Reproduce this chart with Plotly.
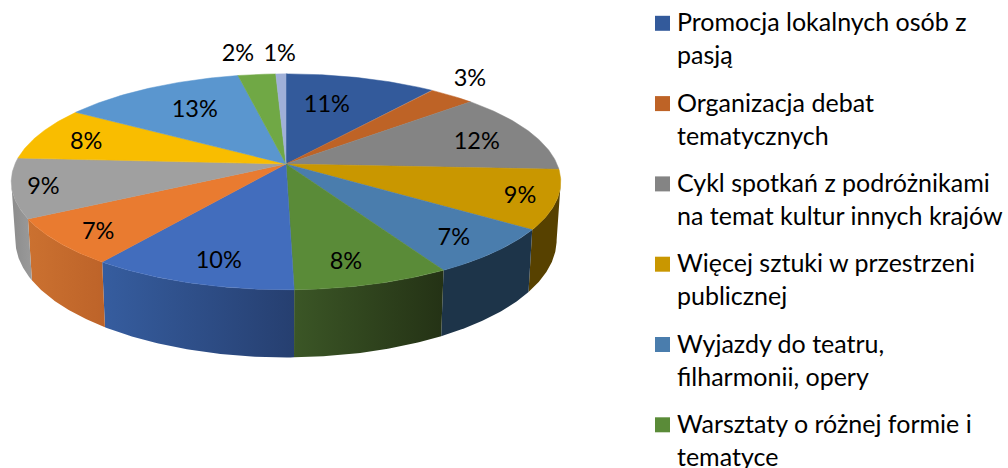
import numpy as np
import plotly.graph_objects as go

# --- data ---
shares = [10.4, 3.2, 12.2, 8.8, 7.1, 7.9, 10.4, 7.0, 8.9, 8.1, 12.7, 2.6, 0.7]
percent_labels = ["11%", "3%", "12%", "9%", "7%", "8%", "10%", "7%", "9%", "8%", "13%", "2%", "1%"]
legend_names = [
    ["Promocja lokalnych osób z", "pasją"],
    ["Organizacja debat", "tematycznych"],
    ["Cykl spotkań z podróżnikami", "na temat kultur innych krajów"],
    ["Więcej sztuki w przestrzeni", "publicznej"],
    ["Wyjazdy do teatru,", "filharmonii, opery"],
    ["Warsztaty o różnej formie i", "tematyce"],
]

# --- style ---
top_colors = ["#335A9B", "#BE6326", "#848484", "#C99700", "#4A7DAD", "#5A8B38", "#426DBD",
              "#E97B30", "#A0A0A0", "#F9BD00", "#5A96CF", "#70A845", "#A0B0D8"]
wall_left = ["#335A9B", "#BE6326", "#848484", "#574100", "#1D3449", "#3B5626", "#365D9F",
             "#CB7130", "#8C8C8C", "#F9BD00", "#5A96CF", "#70A845", "#A0B0D8"]
wall_right = ["#335A9B", "#BE6326", "#848484", "#574100", "#1D3449", "#243215", "#263F70",
              "#BD6329", "#9A9A9A", "#F9BD00", "#5A96CF", "#70A845", "#A0B0D8"]
label_radius = [.66, 1.238, .765, .87, .834, .825, .819, .852, .888, .798, .682, 1.303, 1.285]
label_turn = [-4.1, -3.8, 1.8, 0, .9, 2.2, -2, -1.2, 0, -1.3, 2, -2.3, 0]

FONT = "Lato"
LABEL_SIZE = 23.5
LABEL_DY = 2.5
LEGEND_SIZE = 25
CX, CY, A, B, K = 286, 164, 271, 105, 0.165
WALL_H, WALL_SCALE = 56.5, 0.985
FRONT_FROM = np.degrees(np.arccos(-K))  # where the rim turns out of sight on the right
FRONT_TO = 360 - FRONT_FROM             # and on the left


def project(theta_deg, r=1.0):
    t = np.radians(theta_deg)
    u, v = r * np.sin(t), r * np.cos(t)
    w = 1 + K * v
    return CX + A * u / w, CY - B * v / w, w


cum = np.concatenate([[0], np.cumsum(shares)]) / sum(shares) * 360
fig = go.Figure()

# side walls (only the part of the rim that faces the viewer)
for i in range(len(shares)):
    start, end = max(cum[i], FRONT_FROM), min(cum[i + 1], FRONT_TO)
    if end <= start:
        continue
    th = np.linspace(start, end, 60)
    x, y, w = project(th)
    xb = CX + (x - CX) * WALL_SCALE
    yb = y + WALL_H / w
    fig.add_trace(go.Scatter(
        x=np.concatenate([x, xb[::-1]]), y=np.concatenate([y, yb[::-1]]),
        mode="lines", line=dict(width=0), fill="toself",
        fillgradient=dict(type="horizontal",
                          colorscale=[[0, wall_left[i]], [1, wall_right[i]]]),
        hoverinfo="skip", showlegend=False))

# top faces
for i in range(len(shares)):
    th = np.linspace(cum[i], cum[i + 1], 60)
    x, y, _ = project(th)
    fig.add_trace(go.Scatter(
        x=np.concatenate([[CX], x, [CX]]), y=np.concatenate([[CY], y, [CY]]),
        mode="lines", line=dict(width=0.5, color=top_colors[i]), fill="toself",
        fillcolor=top_colors[i], hoverinfo="skip", showlegend=False))

# data labels
mid = (cum[:-1] + cum[1:]) / 2 + np.array(label_turn)
lx, ly, _ = project(mid, np.array(label_radius))
fig.add_trace(go.Scatter(x=lx, y=ly + LABEL_DY, mode="text", text=percent_labels,
                         textfont=dict(family=FONT, size=LABEL_SIZE, color="#000000"),
                         textposition="middle center", cliponaxis=False,
                         hoverinfo="skip", showlegend=False))

# legend
KEY_X, TEXT_X, FIRST_Y, LINE_STEP, ENTRY_STEP = 662.5, 675, 23.3, 33, 80.3
key_y = [FIRST_Y + n * ENTRY_STEP for n in range(len(legend_names))]
fig.add_trace(go.Scatter(x=[KEY_X] * len(key_y), y=key_y, mode="markers",
                         marker=dict(symbol="square", size=15, color=top_colors[:len(key_y)], line=dict(width=0)),
                         hoverinfo="skip", showlegend=False, cliponaxis=False))
annotations = []
for n, lines in enumerate(legend_names):
    for m, line in enumerate(lines):
        annotations.append(dict(x=TEXT_X, y=key_y[n] + m * LINE_STEP, xref="x", yref="y",
                                text=line, showarrow=False, xanchor="left", yanchor="middle",
                                yshift=2, font=dict(family=FONT, size=LEGEND_SIZE, color="#000000")))

fig.update_layout(
    width=1008, height=468, margin=dict(l=0, r=0, t=0, b=0),
    paper_bgcolor="white", plot_bgcolor="white", showlegend=False,
    xaxis=dict(range=[0, 1008], visible=False, fixedrange=True),
    yaxis=dict(range=[468, 0], visible=False, fixedrange=True),
    annotations=annotations,
)
fig.write_html("out.html", config={"displayModeBar": False},
               post_script="document.body.style.margin='0';document.body.style.overflow='hidden';")
